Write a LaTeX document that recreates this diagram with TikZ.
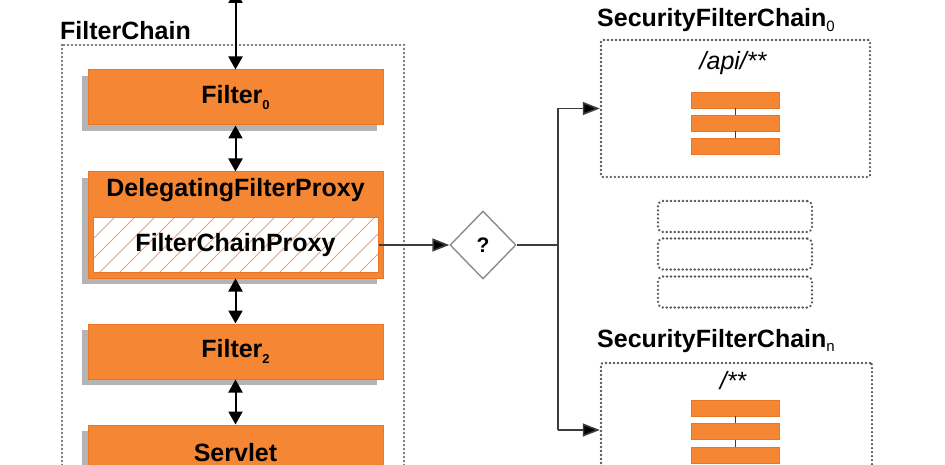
\documentclass[tikz,border=0pt]{standalone}
\usepackage{fontspec}
\setmainfont{Liberation Sans}
\usetikzlibrary{shapes.geometric,arrows.meta,shadows}
\definecolor{org}{RGB}{245,134,52}
\definecolor{orgd}{RGB}{232,118,40}
\definecolor{hatchc}{RGB}{240,160,120}
\definecolor{shd}{RGB}{180,180,180}
\definecolor{dotc}{RGB}{85,85,85}
\definecolor{lnc}{RGB}{60,60,60}
\begin{document}
\begin{tikzpicture}[x=1pt,y=-1pt,
  font=\fontsize{25}{28}\selectfont\bfseries,
  filt/.style={draw=orgd,fill=org,line width=1pt,minimum width=295pt,minimum height=55pt,inner sep=0pt,
     drop shadow={shadow xshift=-6pt,shadow yshift=-6pt,fill=shd,opacity=1}},
  dfpbox/.style={filt,minimum height=106pt},
  fcpbox/.style={draw=orgd,fill=white,line width=1pt,minimum width=285pt,minimum height=54pt,inner sep=0pt},
  dotbox/.style={draw=dotc,line width=2.5pt,line cap=round,dash pattern=on 0.1pt off 3.9pt},
  bar/.style={fill=org,draw=orgd,line width=0.5pt,minimum width=88pt,minimum height=16pt,inner sep=0pt},
  dbl/.style={{Triangle[width=14pt,length=13pt]}-{Triangle[width=14pt,length=13pt]},line width=2pt,black},
  conn/.style={draw=lnc,line width=1.6pt},
  arr/.style={conn,-{Triangle[width=13pt,length=17pt,fill=black]}},
  lbl/.style={inner sep=0pt,anchor=base west},
  pth/.style={inner sep=0pt,anchor=base,font=\fontsize{25}{28}\selectfont\itshape}
]
\useasboundingbox (0,0) rectangle (945,465);
\clip (0,0) rectangle (945,465);
\fill[white] (0,0) rectangle (945,465);

% FilterChain container
\node[lbl] (fclbl) at (60,40) {FilterChain};
\draw[dotbox] (62,45) rectangle (404,490);

% filters
\node[filt] (f0) at (235.5,97.5) {Filter\raisebox{-0.4ex}{\fontsize{13}{13}\selectfont 0}};
\node[dfpbox] (dfp) at (235.5,225) {};
\node[inner sep=0pt,anchor=base] (dfpt) at (235.5,197) {DelegatingFilterProxy};
\node[fcpbox] (fcp) at (235.5,245) {};
\begin{scope}
  \clip (93,218) rectangle (378,272);
  \foreach \i in {0,20,...,360}
    \draw[hatchc,line width=0.9pt] (60+\i,272) -- ++(60,-60);
\end{scope}
\draw[orgd,line width=1pt] (93,218) rectangle (378,272);
\node[inner sep=0pt] (fcpt) at (235.5,245) {FilterChainProxy};
\node[filt] (f2) at (235.5,351.5) {Filter\raisebox{-0.4ex}{\fontsize{13}{13}\selectfont 2}};
\node[filt] (sv) at (235.5,452.5) {Servlet};

% vertical arrows
\coordinate (ttop) at (235.5,-10);
\draw[dbl] (ttop) -- (f0.north);
\draw[dbl] (f0.south) -- (dfp.north);
\draw[dbl] (dfp.south) -- (f2.north);
\draw[dbl] (f2.south) -- (sv.north);

% decision
\node[draw=black!45,line width=1.4pt,diamond,minimum width=66pt,minimum height=68pt,inner sep=0pt,
      font=\fontsize{21}{22}\selectfont\bfseries] (dec) at (483,245) {?};
\draw[arr] (fcp.east) -- (dec.west);

% security filter chains
\node[lbl] (s0lbl) at (597,27) {SecurityFilterChain\raisebox{-0.35ex}{\fontsize{15}{15}\selectfont\mdseries 0}};
\node[dotbox,rounded corners=2pt,minimum width=269pt,minimum height=137pt,inner sep=0pt] (s0) at (735.5,108.5) {};
\node[pth] (s0p) at (733,70) {/api/**};
\node[bar] (b01) at (735,100) {};
\node[bar] (b02) at (735,123) {};
\node[bar] (b03) at (735,146.5) {};
\draw[lnc,line width=0.9pt] (b01.south) -- (b02.north);
\draw[lnc,line width=0.9pt] (b02.south) -- (b03.north);

\node[dotbox,rounded corners=5pt,minimum width=154pt,minimum height=31pt,inner sep=0pt] (m1) at (735,216.5) {};
\node[dotbox,rounded corners=5pt,minimum width=154pt,minimum height=31pt,inner sep=0pt] (m2) at (735,254) {};
\node[dotbox,rounded corners=5pt,minimum width=154pt,minimum height=31pt,inner sep=0pt] (m3) at (735,292) {};

\node[lbl] (snlbl) at (597,347) {SecurityFilterChain\raisebox{-0.35ex}{\fontsize{15}{15}\selectfont\mdseries n}};
\node[dotbox,rounded corners=2pt,minimum width=271pt,minimum height=134pt,inner sep=0pt] (sn) at (736.5,430) {};
\node[pth] (snp) at (733,389) {/**};
\node[bar] (bn1) at (735,408) {};
\node[bar] (bn2) at (735,431.5) {};
\node[bar] (bn3) at (735,455) {};
\draw[lnc,line width=0.9pt] (bn1.south) -- (bn2.north);
\draw[lnc,line width=0.9pt] (bn2.south) -- (bn3.north);

% routing
\coordinate (jm) at (558,245);
\coordinate (j0) at (558,108.5);
\coordinate (jn) at (558,430);
\draw[conn] (dec.east) -- (jm);
\draw[conn] (j0) -- (jn);
\draw[arr] (j0) -- (s0.west);
\draw[arr] (jn) -- (sn.west);
\end{tikzpicture}
\end{document}
